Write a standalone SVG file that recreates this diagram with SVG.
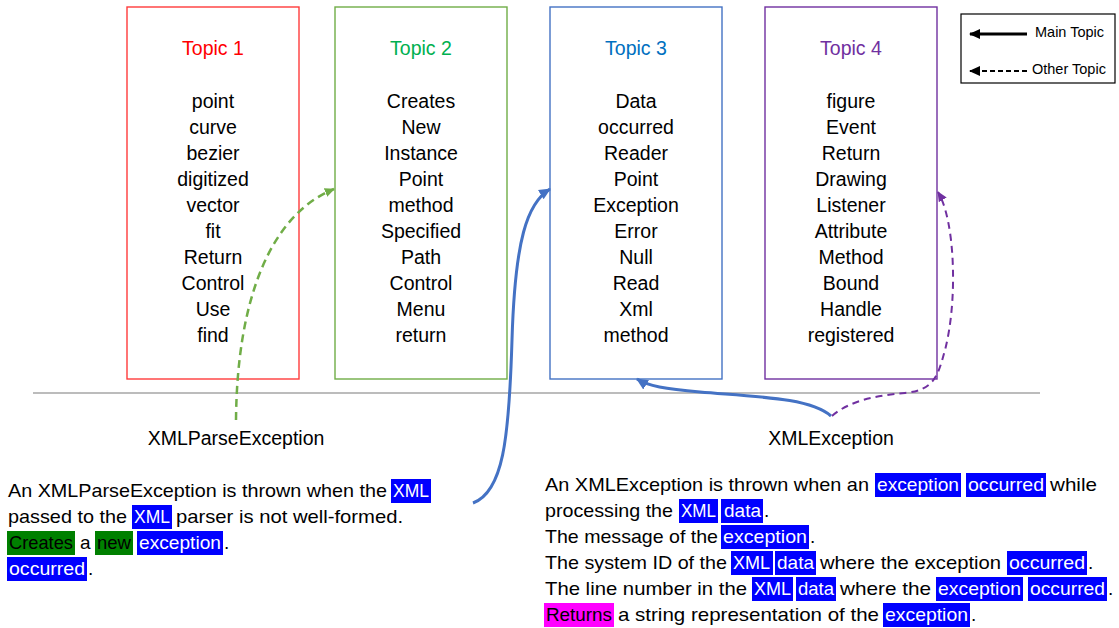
<svg xmlns="http://www.w3.org/2000/svg" width="1119" height="628" viewBox="0 0 1119 628">
<style>
text{font-family:"Liberation Sans",Arial,sans-serif;font-size:19px;fill:#000}
.c{text-anchor:middle;font-size:19.5px}
.box{fill:#fff;stroke-width:1.4}
.w{fill:#fff}
.hb{fill:#0000FF}
.hg{fill:#008000}
.hm{fill:#FF00FF}
.leg{font-size:14.5px}
</style>
<defs>
<marker id="ahBlue" markerUnits="userSpaceOnUse" markerWidth="13" markerHeight="13" viewBox="0 0 12 12" refX="10" refY="6" orient="auto"><path d="M0,1 L11,6 L0,11 Z" fill="#4472C4"/></marker>
<marker id="ahGreen" markerUnits="userSpaceOnUse" markerWidth="11" markerHeight="11" viewBox="0 0 12 12" refX="10" refY="6" orient="auto"><path d="M0,1 L11,6 L0,11 Z" fill="#70AD47"/></marker>
<marker id="ahPurple" markerUnits="userSpaceOnUse" markerWidth="11" markerHeight="11" viewBox="0 0 12 12" refX="10" refY="6" orient="auto"><path d="M0,1 L11,6 L0,11 Z" fill="#7030A0"/></marker>
<marker id="ahBlack" markerUnits="userSpaceOnUse" markerWidth="12" markerHeight="12" viewBox="0 0 12 12" refX="10" refY="6" orient="auto"><path d="M0,1 L11,6 L0,11 Z" fill="#000"/></marker>
</defs>
<rect width="1119" height="628" fill="#fff"/>

<line x1="33" y1="393" x2="1040" y2="393" stroke="#A6A6A6" stroke-width="1.5"/>

<g id="topic1">
<rect class="box" x="127" y="7" width="172" height="372" stroke="#FF3B3B"/>
<text class="c" x="213" y="55" style="fill:#FF0000">Topic 1</text>
<text class="c" x="213" y="108">point</text>
<text class="c" x="213" y="134">curve</text>
<text class="c" x="213" y="160">bezier</text>
<text class="c" x="213" y="186">digitized</text>
<text class="c" x="213" y="212">vector</text>
<text class="c" x="213" y="238">fit</text>
<text class="c" x="213" y="264">Return</text>
<text class="c" x="213" y="290">Control</text>
<text class="c" x="213" y="316">Use</text>
<text class="c" x="213" y="342">find</text>
</g>

<g id="topic2">
<rect class="box" x="335" y="7" width="172" height="372" stroke="#70AD47"/>
<text class="c" x="421" y="55" style="fill:#00B050">Topic 2</text>
<text class="c" x="421" y="108">Creates</text>
<text class="c" x="421" y="134">New</text>
<text class="c" x="421" y="160">Instance</text>
<text class="c" x="421" y="186">Point</text>
<text class="c" x="421" y="212">method</text>
<text class="c" x="421" y="238">Specified</text>
<text class="c" x="421" y="264">Path</text>
<text class="c" x="421" y="290">Control</text>
<text class="c" x="421" y="316">Menu</text>
<text class="c" x="421" y="342">return</text>
</g>

<g id="topic3">
<rect class="box" x="550" y="7" width="172" height="372" stroke="#4472C4"/>
<text class="c" x="636" y="55" style="fill:#0070C0">Topic 3</text>
<text class="c" x="636" y="108">Data</text>
<text class="c" x="636" y="134">occurred</text>
<text class="c" x="636" y="160">Reader</text>
<text class="c" x="636" y="186">Point</text>
<text class="c" x="636" y="212">Exception</text>
<text class="c" x="636" y="238">Error</text>
<text class="c" x="636" y="264">Null</text>
<text class="c" x="636" y="290">Read</text>
<text class="c" x="636" y="316">Xml</text>
<text class="c" x="636" y="342">method</text>
</g>

<g id="topic4">
<rect class="box" x="765" y="7" width="172" height="372" stroke="#7030A0"/>
<text class="c" x="851" y="55" style="fill:#7030A0">Topic 4</text>
<text class="c" x="851" y="108">figure</text>
<text class="c" x="851" y="134">Event</text>
<text class="c" x="851" y="160">Return</text>
<text class="c" x="851" y="186">Drawing</text>
<text class="c" x="851" y="212">Listener</text>
<text class="c" x="851" y="238">Attribute</text>
<text class="c" x="851" y="264">Method</text>
<text class="c" x="851" y="290">Bound</text>
<text class="c" x="851" y="316">Handle</text>
<text class="c" x="851" y="342">registered</text>
</g>

<g id="legend">
<rect x="961" y="14" width="154" height="69" fill="#fff" stroke="#000" stroke-width="1.2"/>
<line x1="1027" y1="34" x2="970" y2="34" stroke="#000" stroke-width="3" marker-end="url(#ahBlack)"/>
<text class="leg" x="1035" y="37">Main Topic</text>
<line x1="1027" y1="71" x2="970" y2="71" stroke="#000" stroke-width="1.8" stroke-dasharray="5,3" marker-end="url(#ahBlack)"/>
<text class="leg" x="1032" y="74">Other Topic</text>
</g>

<g id="doc1">
<text class="c" x="236" y="445">XMLParseException</text>
<rect class="hb" x="391" y="479" width="40" height="24"/>
<rect class="hb" x="132" y="505" width="40" height="24"/>
<rect class="hg" x="7" y="531" width="68" height="24"/>
<rect class="hg" x="95" y="531" width="38" height="24"/>
<rect class="hb" x="137" y="531" width="86" height="24"/>
<rect class="hb" x="7" y="557" width="80" height="24"/>
<text x="8" y="497" textLength="379" lengthAdjust="spacingAndGlyphs">An XMLParseException is thrown when the</text>
<text class="w" x="393" y="497" textLength="36" lengthAdjust="spacingAndGlyphs">XML</text>
<text x="8" y="523" textLength="119" lengthAdjust="spacingAndGlyphs">passed to the</text>
<text class="w" x="134" y="523" textLength="36" lengthAdjust="spacingAndGlyphs">XML</text>
<text x="176" y="523" textLength="227" lengthAdjust="spacingAndGlyphs">parser is not well-formed.</text>
<text x="9" y="549" textLength="64" lengthAdjust="spacingAndGlyphs">Creates</text>
<text x="80" y="549">a</text>
<text x="97" y="549" textLength="34" lengthAdjust="spacingAndGlyphs">new</text>
<text class="w" x="139" y="549" textLength="82" lengthAdjust="spacingAndGlyphs">exception</text>
<text x="224" y="549">.</text>
<text class="w" x="9" y="575" textLength="76" lengthAdjust="spacingAndGlyphs">occurred</text>
<text x="88" y="575">.</text>
</g>

<g id="doc2">
<text class="c" x="831" y="445">XMLException</text>
<rect class="hb" x="875" y="473" width="86" height="24"/>
<rect class="hb" x="966" y="473" width="80" height="24"/>
<rect class="hb" x="679" y="499" width="39" height="24"/>
<rect class="hb" x="721" y="499" width="42" height="24"/>
<rect class="hb" x="721" y="525" width="88" height="24"/>
<rect class="hb" x="731" y="551" width="42" height="24"/>
<rect class="hb" x="775" y="551" width="41" height="24"/>
<rect class="hb" x="1007" y="551" width="80" height="24"/>
<rect class="hb" x="752" y="577" width="41" height="24"/>
<rect class="hb" x="796" y="577" width="40" height="24"/>
<rect class="hb" x="936" y="577" width="87" height="24"/>
<rect class="hb" x="1028" y="577" width="79" height="24"/>
<rect class="hm" x="544" y="603" width="70" height="24"/>
<rect class="hb" x="883" y="603" width="87" height="24"/>
<text x="545" y="491" textLength="324" lengthAdjust="spacingAndGlyphs">An XMLException is thrown when an</text>
<text class="w" x="877" y="491" textLength="82" lengthAdjust="spacingAndGlyphs">exception</text>
<text class="w" x="968" y="491" textLength="76" lengthAdjust="spacingAndGlyphs">occurred</text>
<text x="1050" y="491" textLength="47" lengthAdjust="spacingAndGlyphs">while</text>
<text x="545" y="517" textLength="128" lengthAdjust="spacingAndGlyphs">processing the</text>
<text class="w" x="681" y="517" textLength="35" lengthAdjust="spacingAndGlyphs">XML</text>
<text class="w" x="724" y="517" textLength="37" lengthAdjust="spacingAndGlyphs">data</text>
<text x="764" y="517">.</text>
<text x="545" y="543" textLength="173" lengthAdjust="spacingAndGlyphs">The message of the</text>
<text class="w" x="723" y="543" textLength="84" lengthAdjust="spacingAndGlyphs">exception</text>
<text x="810" y="543">.</text>
<text x="545" y="569" textLength="182" lengthAdjust="spacingAndGlyphs">The system ID of the</text>
<text class="w" x="733" y="569" textLength="37" lengthAdjust="spacingAndGlyphs">XML</text>
<text class="w" x="777" y="569" textLength="37" lengthAdjust="spacingAndGlyphs">data</text>
<text x="820" y="569" textLength="181" lengthAdjust="spacingAndGlyphs">where the exception</text>
<text class="w" x="1009" y="569" textLength="76" lengthAdjust="spacingAndGlyphs">occurred</text>
<text x="1088" y="569">.</text>
<text x="545" y="595" textLength="202" lengthAdjust="spacingAndGlyphs">The line number in the</text>
<text class="w" x="754" y="595" textLength="37" lengthAdjust="spacingAndGlyphs">XML</text>
<text class="w" x="798" y="595" textLength="36" lengthAdjust="spacingAndGlyphs">data</text>
<text x="840" y="595" textLength="91" lengthAdjust="spacingAndGlyphs">where the</text>
<text class="w" x="938" y="595" textLength="83" lengthAdjust="spacingAndGlyphs">exception</text>
<text class="w" x="1030" y="595" textLength="75" lengthAdjust="spacingAndGlyphs">occurred</text>
<text x="1108" y="595">.</text>
<text x="546" y="621" textLength="66" lengthAdjust="spacingAndGlyphs">Returns</text>
<text x="618" y="621" textLength="261" lengthAdjust="spacingAndGlyphs">a string representation of the</text>
<text class="w" x="885" y="621" textLength="83" lengthAdjust="spacingAndGlyphs">exception</text>
<text x="971" y="621">.</text>
</g>

<g id="connectors" fill="none">
<path d="M236,420 C237,300 270,215 334,189" stroke="#70AD47" stroke-width="2.5" stroke-dasharray="8,5" marker-end="url(#ahGreen)"/>
<path d="M473,503 C503,492 509,440 512,340 C515,240 527,203 550,189" stroke="#4472C4" stroke-width="3" marker-end="url(#ahBlue)"/>
<path d="M831,416 C810,398 760,397 700,392 C665,389 648,386 637,379" stroke="#4472C4" stroke-width="3" marker-end="url(#ahBlue)"/>
<path d="M832,416 C850,400 880,395 905,393 C935,390 938,375 945,350 C958,300 955,220 938,192" stroke="#7030A0" stroke-width="2" stroke-dasharray="7,5" marker-end="url(#ahPurple)"/>
</g>
</svg>
